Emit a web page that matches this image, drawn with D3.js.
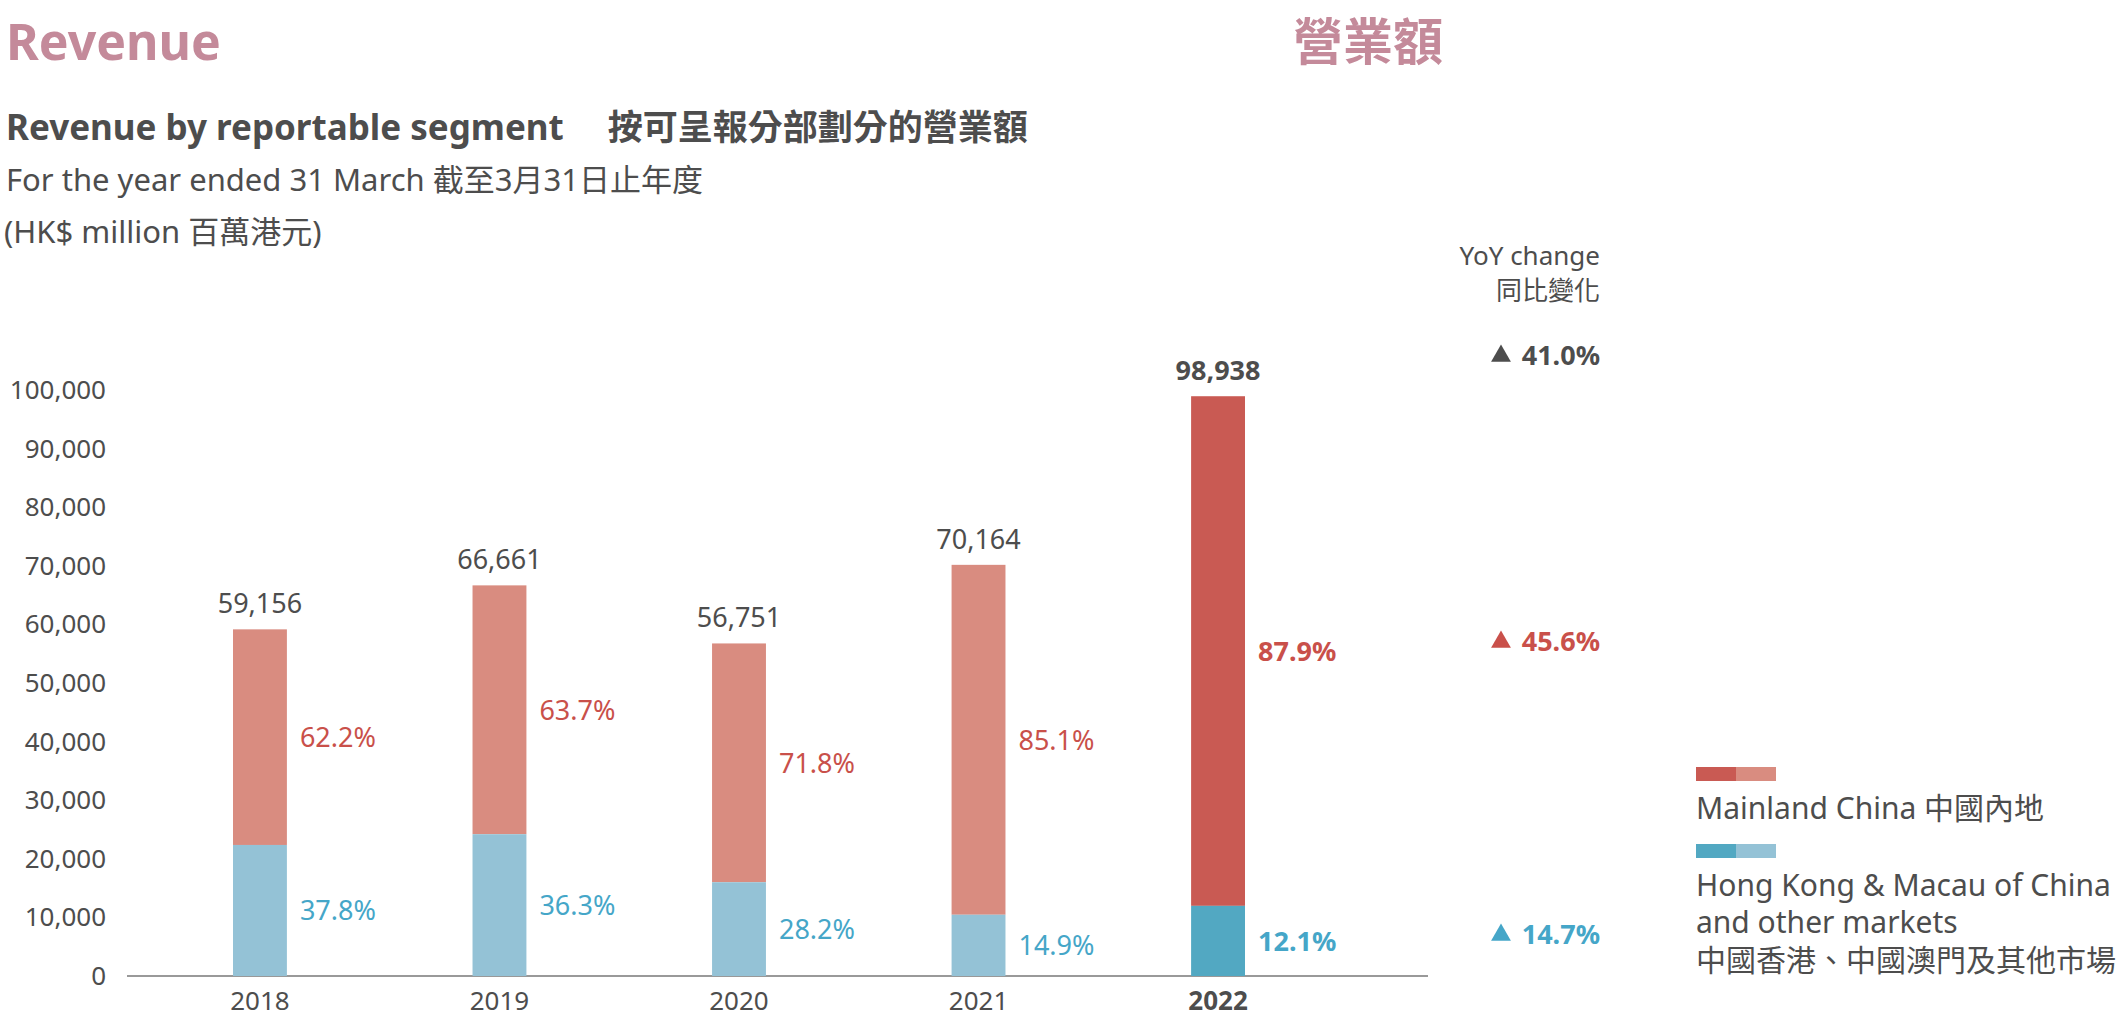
<!DOCTYPE html>
<html>
<head>
<meta charset="utf-8">
<script src="https://cdn.jsdelivr.net/npm/d3@7"></script>
<style>
body { margin: 0; background: #fff; }
text { font-family: "Noto Sans", "Noto Sans CJK TC", sans-serif; fill: #4d4d4d; }
</style>
</head>
<body>
<svg id="chart" width="2128" height="1017"></svg>
<script>
const years = ["2018", "2019", "2020", "2021", "2022"];
const totals = [59156, 66661, 56751, 70164, 98938];
const mainlandPct = [62.2, 63.7, 71.8, 85.1, 87.9];
const hkPct = [37.8, 36.3, 28.2, 14.9, 12.1];
const yoyLabels = ["41.0%", "45.6%", "14.7%"];
const yTicks = [0, 10000, 20000, 30000, 40000, 50000, 60000, 70000, 80000, 90000, 100000];

const svg = d3.select("#chart");
const red = "#d98c80", redDark = "#c95a53", blue = "#94c2d6", blueDark = "#52a8c2";

const x = d3.scaleBand().domain(years).range([233, 1245]).paddingInner(0.775).paddingOuter(0);
const y = d3.scaleLinear().domain([0, 100000]).range([976, 390]);

// titles
svg.append("text").attr("x", 6).attr("y", 60).style("font-size", "50px").style("font-weight", "bold")
    .style("fill", "#c48a9a").text("Revenue");
svg.append("text").attr("x", 1443).attr("y", 60).attr("text-anchor", "end").style("font-size", "50px")
    .style("font-weight", "bold").style("fill", "#c48a9a").text("營業額");
svg.append("text").attr("x", 6).attr("y", 140).style("font-size", "35px").style("font-weight", "bold")
    .text("Revenue by reportable segment\u2003 按可呈報分部劃分的營業額");
svg.append("text").attr("x", 6).attr("y", 191).style("font-size", "31px").text("For the year ended 31 March 截至3月31日止年度");
svg.append("text").attr("x", 4).attr("y", 243).style("font-size", "31px").text("(HK$ million 百萬港元)");

// y axis labels
svg.append("g").selectAll("text").data(yTicks).join("text")
    .attr("x", 106).attr("y", d => y(d) + 9).attr("text-anchor", "end")
    .style("font-size", "26px").text(d => d3.format(",")(d));

svg.append("line").attr("x1", 127).attr("x2", 1428).attr("y1", y(0)).attr("y2", y(0))
    .attr("stroke", "#999").attr("stroke-width", 2);

years.forEach((yr, i) => {
    const last = i === years.length - 1;
    const hk = totals[i] * hkPct[i] / 100;
    const bx = x(yr), bw = x.bandwidth();
    svg.append("rect").attr("x", bx).attr("width", bw).attr("y", y(totals[i])).attr("height", y(hk) - y(totals[i]))
        .attr("fill", last ? redDark : red);
    svg.append("rect").attr("x", bx).attr("width", bw).attr("y", y(hk)).attr("height", y(0) - y(hk))
        .attr("fill", last ? blueDark : blue);
    svg.append("text").attr("x", bx + bw / 2).attr("y", y(totals[i]) - 16).attr("text-anchor", "middle")
        .style("font-size", "27px").style("font-weight", last ? "bold" : "normal").text(d3.format(",")(totals[i]));
    svg.append("text").attr("x", bx + bw + 13).attr("y", (y(totals[i]) + y(hk)) / 2 + 10)
        .style("font-size", "27px").style("font-weight", last ? "bold" : "normal").style("fill", "#c9504a")
        .text(mainlandPct[i].toFixed(1) + "%");
    svg.append("text").attr("x", bx + bw + 13).attr("y", (y(hk) + y(0)) / 2 + 10)
        .style("font-size", "27px").style("font-weight", last ? "bold" : "normal").style("fill", "#45a6c8")
        .text(hkPct[i].toFixed(1) + "%");
    svg.append("text").attr("x", bx + bw / 2).attr("y", 1010).attr("text-anchor", "middle")
        .style("font-size", "26px").style("font-weight", last ? "bold" : "normal").text(yr);
});

// YoY column
svg.append("text").attr("x", 1600).attr("y", 265).attr("text-anchor", "end").style("font-size", "26px").text("YoY change");
svg.append("text").attr("x", 1600).attr("y", 300).attr("text-anchor", "end").style("font-size", "26px").text("同比變化");
const yoyY = [365, 651, 944];
const yoyColors = ["#4d4d4d", "#c9504a", "#45a6c8"];
yoyLabels.forEach((t, i) => {
    svg.append("text").attr("x", 1600).attr("y", yoyY[i]).attr("text-anchor", "end")
        .style("font-size", "27px").style("font-weight", "bold").style("fill", yoyColors[i]).text(t);
    svg.append("path").attr("d", d3.symbol(d3.symbolTriangle, 170)())
        .attr("transform", `translate(1501,${yoyY[i] - 9})`).attr("fill", yoyColors[i]);
});

// legend
const lg = svg.append("g");
[[redDark, red, 767], [blueDark, blue, 844]].forEach(([c1, c2, yy]) => {
    lg.append("rect").attr("x", 1696).attr("y", yy).attr("width", 40).attr("height", 14).attr("fill", c1);
    lg.append("rect").attr("x", 1736).attr("y", yy).attr("width", 40).attr("height", 14).attr("fill", c2);
});
const legendLines = [["Mainland China 中國內地", 819], ["Hong Kong & Macau of China", 896],
    ["and other markets", 933], ["中國香港、中國澳門及其他市場", 971]];
legendLines.forEach(([t, yy]) => {
    lg.append("text").attr("x", 1696).attr("y", yy).style("font-size", "30px").text(t);
});
</script>
</body>
</html>
